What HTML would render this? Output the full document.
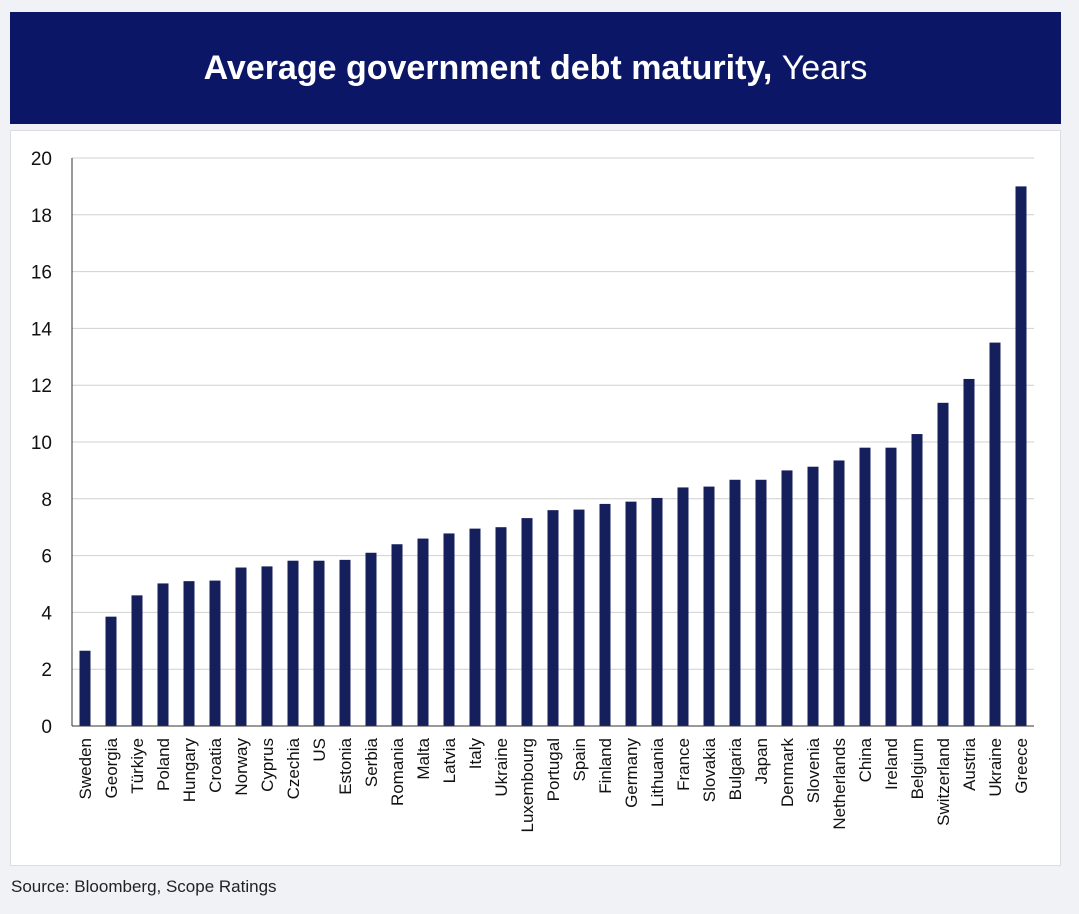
<!DOCTYPE html>
<html><head><meta charset="utf-8"><style>
body{margin:0;background:#f1f2f6;width:1079px;height:914px;overflow:hidden;font-family:"Liberation Sans",sans-serif;}
#hdr{position:absolute;left:10px;top:12px;width:1051px;height:112px;background:#0b1766;color:#fff;display:flex;align-items:center;justify-content:center;font-size:34px;}
#panel{position:absolute;left:10px;top:130px;width:1051px;height:736px;background:#fff;border:1px solid #dcdde3;box-sizing:border-box;}
#src{position:absolute;left:11px;top:877px;font-size:17px;color:#222;}
</style></head><body>
<div id="hdr"><b>Average government debt maturity,</b>&nbsp;Years</div>
<div id="panel"></div>
<svg id="chart" width="1079" height="914" style="position:absolute;left:0;top:0"></svg>
<div id="src">Source: Bloomberg, Scope Ratings</div>
<script>
const categories=["Sweden","Georgia","Türkiye","Poland","Hungary","Croatia","Norway","Cyprus","Czechia","US","Estonia","Serbia","Romania","Malta","Latvia","Italy","Ukraine","Luxembourg","Portugal","Spain","Finland","Germany","Lithuania","France","Slovakia","Bulgaria","Japan","Denmark","Slovenia","Netherlands","China","Ireland","Belgium","Switzerland","Austria","Ukraine","Greece"];
const values=[2.65,3.85,4.6,5.02,5.1,5.12,5.58,5.62,5.82,5.82,5.85,6.1,6.4,6.6,6.78,6.95,7.0,7.32,7.6,7.62,7.82,7.9,8.03,8.4,8.43,8.67,8.67,9.0,9.13,9.35,9.8,9.8,10.28,11.38,12.22,13.5,19.0];
const yTicks=[0,2,4,6,8,10,12,14,16,18,20];
const svg=document.getElementById('chart');const NS='http://www.w3.org/2000/svg';
const x0=72,x1=1034,yBase=726,yTop=158;
const y=v=>yBase-(v/20)*(yBase-yTop);
const step=(x1-x0)/categories.length;
const xc=i=>x0+step*(i+0.5);
function mk(t,a){const e=document.createElementNS(NS,t);for(const k in a)e.setAttribute(k,a[k]);svg.appendChild(e);return e;}
yTicks.forEach(t=>{
 if(t>0){const g=mk('line',{x1:x0,x2:x1,y1:y(t),y2:y(t),stroke:'#d0d0d0','stroke-width':1});
 
 }
 const l=mk('text',{x:52,y:y(t)+7,'text-anchor':'end','font-size':19,fill:'#111'});l.textContent=t;
 
 
});
values.forEach((v,i)=>{
 const r=mk('rect',{x:xc(i)-5.5,y:y(v),width:11,height:yBase-y(v),fill:'#141f5c'});
 
 
 const t=mk('text',{transform:`translate(${xc(i)+6},738) rotate(-90)`,'text-anchor':'end','font-size':17,fill:'#111'});t.textContent=categories[i];
 
 
});
const ax=mk('line',{x1:x0,x2:x1,y1:yBase,y2:yBase,stroke:'#333','stroke-width':1});


const ay=mk('line',{x1:x0,x2:x0,y1:yTop,y2:yBase,stroke:'#333','stroke-width':1});


</script>
</body></html>
